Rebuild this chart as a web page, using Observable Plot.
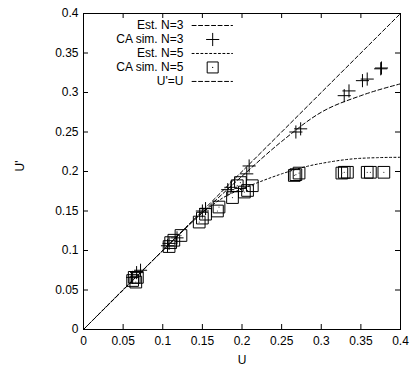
<!DOCTYPE html>
<html><head><meta charset="utf-8">
<script src="https://cdn.jsdelivr.net/npm/d3@7"></script>
<script src="https://cdn.jsdelivr.net/npm/@observablehq/plot@0.6"></script>
<style>body{margin:0;background:#fff}</style>
</head><body><div id="chart"></div>
<script>
// ---- data ----
const xTicks = [0, 0.05, 0.1, 0.15, 0.2, 0.25, 0.3, 0.35, 0.4];
const yTicks = [0, 0.05, 0.1, 0.15, 0.2, 0.25, 0.3, 0.35, 0.4];
const xTickLabels = ["0", "0.05", "0.1", "0.15", "0.2", "0.25", "0.3", "0.35", "0.4"];
const yTickLabels = ["0", "0.05", "0.1", "0.15", "0.2", "0.25", "0.3", "0.35", "0.4"];

const est3U = [0, 0.05, 0.1, 0.15, 0.2, 0.25, 0.3, 0.35, 0.4];
const est3V = [0, 0.05, 0.1, 0.148, 0.194, 0.238, 0.275, 0.296, 0.311];

const est5U = [0, 0.1, 0.15, 0.18, 0.2, 0.22, 0.25, 0.28, 0.31, 0.34, 0.37, 0.4];
const est5V = [0, 0.1, 0.148, 0.169, 0.178, 0.186, 0.197, 0.206, 0.212, 0.216, 0.2175, 0.218];

const identU = [0, 0.4];
const identV = [0, 0.4];

const ca3U = [0.375, 0.376, 0.358, 0.352, 0.335, 0.329, 0.274, 0.268, 0.209, 0.206, 0.186, 0.182, 0.154, 0.150, 0.118, 0.108, 0.106, 0.072, 0.067, 0.062];
const ca3V = [0.330, 0.331, 0.317, 0.315, 0.302, 0.296, 0.254, 0.250, 0.207, 0.197, 0.180, 0.177, 0.153, 0.150, 0.116, 0.109, 0.106, 0.075, 0.072, 0.066];

const ca5U = [0.379, 0.358, 0.362, 0.333, 0.329, 0.326, 0.272, 0.268, 0.266, 0.213, 0.207, 0.203, 0.198, 0.194, 0.188, 0.171, 0.169, 0.154, 0.150, 0.146, 0.123, 0.114, 0.110, 0.108, 0.062, 0.064, 0.068, 0.066];
const ca5V = [0.199, 0.199, 0.199, 0.199, 0.199, 0.198, 0.198, 0.196, 0.195, 0.182, 0.176, 0.174, 0.186, 0.182, 0.167, 0.155, 0.150, 0.146, 0.141, 0.136, 0.119, 0.113, 0.110, 0.105, 0.062, 0.066, 0.066, 0.060];

const legendLabels = ["Est. N=3", "CA sim. N=3", "Est. N=5", "CA sim. N=5", "U'=U"];

// ---- build ----
const zip = (a, b) => a.map((u, i) => ({u, v: b[i]}));
const est3 = zip(est3U, est3V);
const est5 = zip(est5U, est5V);
const ident = zip(identU, identV);
const ca3 = zip(ca3U, ca3V);
const ca5 = zip(ca5U, ca5V);

const dash3 = "4,2.5";
const dash5 = "2,2.4";
const dashId = "4,2.5";

// legend layout (in data units of the frame)
const legTextX = 0.126, legL0 = 0.137, legL1 = 0.188, legMark = 0.163;
const legRowY = i => 0.4 - (0.0152 + 0.0177 * i);

const legendMarks = [];
legendLabels.forEach((lab, i) => {
  legendMarks.push(Plot.text([lab], {x: () => legTextX, y: () => legRowY(i), text: d => d, textAnchor: "end", fill: "black"}));
});
const legLine = (i, dash) => Plot.line([{u: legL0, v: legRowY(i)}, {u: legL1, v: legRowY(i)}], {x: "u", y: "v", stroke: "black", strokeWidth: 1, strokeDasharray: dash});
legendMarks.push(legLine(0, dash3));
legendMarks.push(legLine(2, dash5));
legendMarks.push(legLine(4, dashId));
legendMarks.push(Plot.dot([{u: legMark, v: legRowY(1)}], {x: "u", y: "v", symbol: "plus", r: 4.3, stroke: "black", strokeWidth: 1}));
legendMarks.push(Plot.dot([{u: legMark, v: legRowY(3)}], {x: "u", y: "v", symbol: "square", r: 6.2, stroke: "black", fill: "none", strokeWidth: 1}));
legendMarks.push(Plot.dot([{u: legMark, v: legRowY(3)}], {x: "u", y: "v", r: 0.6, fill: "black", stroke: "none"}));

const W = 411, H = 369, mL = 83, mR = 11, mT = 13, mB = 40;
const innerW = W - mL - mR, innerH = H - mT - mB;
const tl = 5;

const chart = Plot.plot({
  width: W, height: H,
  marginLeft: mL, marginRight: mR, marginTop: mT, marginBottom: mB,
  style: {fontFamily: "'Liberation Sans', Arial, sans-serif", fontSize: "12px", color: "black", background: "white"},
  x: {domain: [0, 0.4]},
  y: {domain: [0, 0.4]},
  marks: [
    Plot.axisX(xTicks, {tickSize: 0, tickPadding: 7, tickFormat: (d, i) => xTickLabels[i], fill: "black", label: null}),
    Plot.axisY(yTicks, {tickSize: 0, tickPadding: 5, tickFormat: (d, i) => yTickLabels[i], fill: "black", label: null}),
    Plot.tickX(xTicks, {x: d => d, insetTop: innerH - tl, stroke: "black"}),
    Plot.tickX(xTicks, {x: d => d, insetBottom: innerH - tl, stroke: "black"}),
    Plot.tickY(yTicks, {y: d => d, insetRight: innerW - tl, stroke: "black"}),
    Plot.tickY(yTicks, {y: d => d, insetLeft: innerW - tl, stroke: "black"}),
    Plot.line(ident, {x: "u", y: "v", stroke: "black", strokeWidth: 1, strokeDasharray: dashId}),
    Plot.line(est3, {x: "u", y: "v", stroke: "black", strokeWidth: 1, strokeDasharray: dash3, curve: "monotone-x"}),
    Plot.line(est5, {x: "u", y: "v", stroke: "black", strokeWidth: 1, strokeDasharray: dash5, curve: "monotone-x"}),
    Plot.dot(ca5, {x: "u", y: "v", symbol: "square", r: 6.6, stroke: "black", fill: "none", strokeWidth: 1}),
    Plot.dot(ca5, {x: "u", y: "v", r: 0.6, fill: "#333", stroke: "none"}),
    Plot.dot(ca3, {x: "u", y: "v", symbol: "plus", r: 4.3, stroke: "black", strokeWidth: 1}),
    ...legendMarks,
    Plot.frame({stroke: "black", strokeWidth: 1}),
    Plot.text(["U"], {frameAnchor: "bottom", dy: 34, text: d => d, fill: "black"}),
    Plot.text(["U'"], {frameAnchor: "left", dx: -63, rotate: -90, text: d => d, fill: "black"})
  ]
});
document.getElementById("chart").appendChild(chart);
</script>
</body></html>
